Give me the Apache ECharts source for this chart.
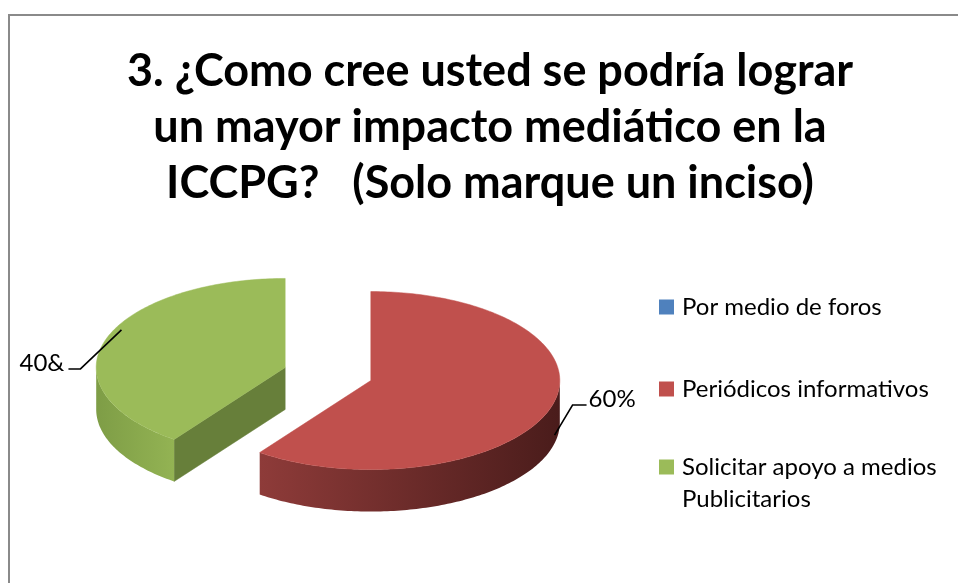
<!DOCTYPE html>
<html>
<head>
<meta charset="utf-8">
<script src="https://cdn.jsdelivr.net/npm/echarts@6/dist/echarts.min.js"></script>
<style>
    html, body { margin: 0; padding: 0; background: #fff; }
    #chart { width: 958px; height: 583px; }
</style>
</head>
<body>
<div id="chart"></div>
<script>
// datos de la encuesta
var categories = ["Por medio de foros", "Periódicos informativos", "Solicitar apoyo a medios Publicitarios"];
var values = [0, 60, 40];
var valueLabels = ["", "60%", "40&"];
var titleLines = ["3. ¿Como cree usted se podría lograr", "un mayor impacto mediático en la", "ICCPG?   (Solo marque un inciso)"];

// colores (tapa, corte, pared izq -> der)
var topColors = ["#4F81BD", "#C0504D", "#9BBB59"];
var cutColors = ["#3A5F8C", "#5A2322", "#677F3A"];
var wallLeft = ["#3F6696", "#8E3B39", "#7E9D46"];
var wallRight = ["#2A4466", "#4A1C1B", "#93B353"];

// geometria del pastel 3D
var CX = 328, CY = 374, RX = 189, RY = 89, DEPTH = 42, EXPLODE = 45;
var FONT = "Lato, 'Open Sans', sans-serif";
// posicion de etiquetas relativa al punto medio del sector
var labelLayout = [
    null,
    {anchor: [4, 27], elbow: [18, -30], tail: 14},
    {anchor: [16, -10], elbow: [-41, 39], tail: -12}
];

(function () {
    var myChart = echarts.init(document.getElementById("chart"));

    var total = values.reduce(function (s, x) { return s + x; }, 0);

    function pt(c, a, dy) {
        return [c[0] + RX * Math.cos(a), c[1] - RY * Math.sin(a) + (dy || 0)];
    }

    function arc(c, from, to, dy) {
        var n = Math.max(2, Math.ceil(Math.abs(to - from) / (Math.PI / 180)));
        var pts = [];
        for (var i = 0; i <= n; i++) {
            pts.push(pt(c, from + (to - from) * i / n, dy));
        }
        return pts;
    }

    function makeRender(idx) {
        return function (params, api) {
            var v = api.value(0);
            if (!v) return {type: "group", children: []};
            var before = 0;
            for (var k = 0; k < idx; k++) before += values[k];
            // sentido horario desde las 12
            var a0 = Math.PI / 2 - 2 * Math.PI * before / total;
            var a1 = a0 - 2 * Math.PI * v / total;
            var mid = (a0 + a1) / 2;
            var c = [CX + EXPLODE * Math.cos(mid), CY - EXPLODE * (RY / RX) * Math.sin(mid)];
            var children = [];

            // caras de corte visibles
            [[a0, Math.cos(a0) < -1e-6], [a1, Math.cos(a1) > 1e-6]].forEach(function (e) {
                if (!e[1]) return;
                var p = pt(c, e[0]);
                children.push({
                    type: "polygon",
                    shape: {points: [c, p, [p[0], p[1] + DEPTH], [c[0], c[1] + DEPTH]]},
                    style: {fill: cutColors[idx], stroke: cutColors[idx], lineWidth: 0.5}
                });
            });

            // pared exterior (mitad frontal)
            for (var kk = -2; kk <= 1; kk++) {
                var lo = -Math.PI + 2 * Math.PI * kk, hi = 2 * Math.PI * kk;
                var b0 = Math.max(a1, lo), b1 = Math.min(a0, hi);
                if (b1 - b0 > 1e-6) {
                    var pts = arc(c, b1, b0, 0).concat(arc(c, b0, b1, DEPTH));
                    children.push({
                        type: "polygon",
                        shape: {points: pts},
                        style: {
                            fill: new echarts.graphic.LinearGradient(0, 0, 1, 0, [
                                {offset: 0, color: wallLeft[idx]},
                                {offset: 1, color: wallRight[idx]}
                            ])
                        }
                    });
                }
            }

            // tapa
            children.push({
                type: "polygon",
                shape: {points: [c].concat(arc(c, a0, a1, 0))},
                style: {fill: topColors[idx], stroke: topColors[idx], lineWidth: 0.5}
            });

            // etiqueta con linea guia
            var lay = labelLayout[idx];
            if (lay && valueLabels[idx]) {
                var m = pt(c, mid);
                var an = [m[0] + lay.anchor[0], m[1] + lay.anchor[1]];
                var el = [an[0] + lay.elbow[0], an[1] + lay.elbow[1]];
                var tl = [el[0] + lay.tail, el[1]];
                children.push({
                    type: "polyline",
                    shape: {points: [an, el, tl]},
                    style: {stroke: "#000", lineWidth: 1.6, fill: null}
                });
                children.push({
                    type: "text",
                    style: {
                        text: valueLabels[idx],
                        x: tl[0] + (lay.tail > 0 ? 2 : -4),
                        y: tl[1] - 6,
                        align: lay.tail > 0 ? "left" : "right",
                        verticalAlign: "middle",
                        fill: "#000",
                        fontSize: 24,
                        fontFamily: FONT
                    }
                });
            }
            return {type: "group", children: children};
        };
    }

    var series = categories.map(function (name, i) {
        return {
            type: "custom",
            name: name,
            coordinateSystem: "none",
            data: [values[i]],
            itemStyle: {color: topColors[i]},
            renderItem: makeRender(i)
        };
    });

    var option = {
        animation: false,
        title: {
            text: titleLines.join("\n"),
            left: 485,
            top: 38,
            textAlign: "center",
            padding: 5,
            textStyle: {
                color: "#000",
                fontSize: 45,
                fontWeight: "bold",
                fontFamily: FONT,
                lineHeight: 56
            }
        },
        legend: [
            {
                orient: "vertical",
                left: 659,
                top: 293,
                padding: 0,
                itemWidth: 15,
                itemHeight: 15,
                itemGap: 54,
                icon: "rect",
                selectedMode: false,
                data: categories.slice(0, 2),
                textStyle: {
                    color: "#000",
                    fontSize: 24,
                    fontFamily: FONT,
                    lineHeight: 28,
                    padding: [0, 0, 0, 3]
                }
            },
            {
                orient: "vertical",
                left: 659,
                top: 419,
                padding: 0,
                itemWidth: 15,
                itemHeight: 15,
                icon: "rect",
                selectedMode: false,
                data: categories.slice(2),
                // linea vacia arriba para que el cuadro quede junto a la primera linea
                formatter: function (name) {
                    return " \n" + name.replace(/ (\S+)$/, "\n$1");
                },
                textStyle: {
                    color: "#000",
                    fontSize: 24,
                    fontFamily: FONT,
                    lineHeight: 32,
                    padding: [0, 0, 0, 3]
                }
            }
        ],
        graphic: [
            {
                type: "rect",
                shape: {x: 9, y: 15, width: 1000, height: 700},
                style: {fill: null, stroke: "#8a8a8a", lineWidth: 2},
                silent: true
            }
        ],
        series: series
    };
    myChart.setOption(option);
    window.addEventListener("resize", function () {
        myChart.resize();
    });
})();
</script>
</body>
</html>
